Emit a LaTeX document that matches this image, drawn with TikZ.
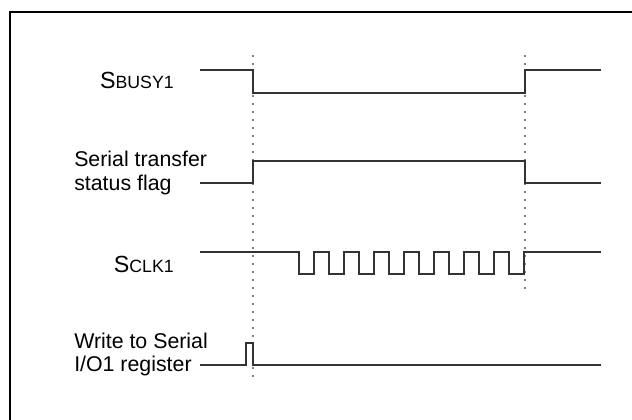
\documentclass[tikz,border=0pt]{standalone}
\usepackage{fontspec}
\setmainfont{Liberation Sans}
\usetikzlibrary{positioning}
\newcommand{\signame}[2]{{\fontsize{17.5}{18}\selectfont #1}{\fontsize{13.3}{14}\selectfont #2}}
\begin{document}
\begin{tikzpicture}[x=0.75pt,y=-0.75pt,font=\fontsize{16}{17.6}\selectfont]
\tikzstyle{wave}=[line width=0.8pt,black!80]
\tikzstyle{edge}=[gray,line width=1.5pt,dash pattern=on 1.5pt off 4.5pt]
\tikzstyle{lbl}=[inner sep=0pt,align=left]
\useasboundingbox (0,0) rectangle (632,419); \clip (0,0) rectangle (632,419);
\draw[line width=2pt] (10,12) rectangle (700,500);
\coordinate (t0) at (253,55); \coordinate (t1) at (525,55);
\draw[edge] (t0) -- (253,378); \draw[edge] (t1) -- (525,290);
\node[lbl,anchor=base east] (busy) at (174,88) {\signame{S}{BUSY1}};
\node[lbl,anchor=west] (flag) at (74,172.8) {Serial transfer\\status flag};
\node[lbl,anchor=base east] (clk) at (174,272) {\signame{S}{CLK1}};
\node[lbl,anchor=west] (wr) at (74,354.5) {Write to Serial\\I/O1 register};
\draw[wave] (200,70) -- (253,70) -- (253,93) -- (525,93) -- (525,70) -- (601,70);
\draw[wave] (200,183) -- (253,183) -- (253,161) -- (525,161) -- (525,183) -- (601,183);
\draw[wave] (200,252) foreach \k in {0,...,7} {-- ({299+30*\k},252) -- ({299+30*\k},274) -- ({314+30*\k},274) -- ({314+30*\k},252)} -- (601,252);
\draw[wave] (200,365) -- (246,365) -- (246,343) -- (253,343) -- (253,365) -- (601,365);
\end{tikzpicture}
\end{document}
